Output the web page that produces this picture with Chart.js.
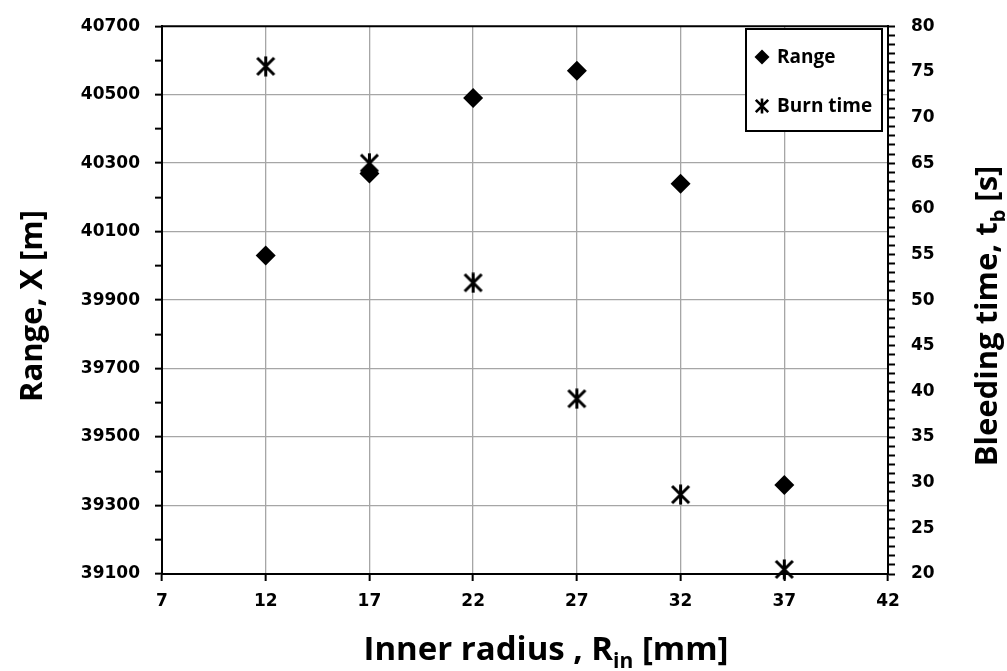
<!DOCTYPE html>
<html>
<head>
<meta charset="utf-8">
<script src="https://cdn.jsdelivr.net/npm/chart.js@4.4.0/dist/chart.umd.min.js"></script>
<style>
html, body { margin: 0; padding: 0; background: #fff; }
#holder { width: 1007px; height: 671px; }
</style>
</head>
<body>
<div id="holder"><canvas id="chart-area" width="1007" height="671"></canvas></div>
<script>
// data
var innerRadius = [12, 17, 22, 27, 32, 37];
var rangeX = [40030, 40270, 40490, 40570, 40240, 39360];
var burnTime = [75.6, 65.0, 51.9, 39.2, 28.7, 20.5];

// tick labels
var xTickLabels = [7, 12, 17, 22, 27, 32, 37, 42];
var rangeTickLabels = [39100, 39300, 39500, 39700, 39900, 40100, 40300, 40500, 40700];
var timeTickLabels = [20, 25, 30, 35, 40, 45, 50, 55, 60, 65, 70, 75, 80];

var tickFont = { family: '"DejaVu Sans"', size: 17, weight: 'bold' };
var titleFont = '"Open Sans"';
var gridGray = '#a6a6a6';

// excel style star marker: X plus a vertical bar
function makeStar(size, lw) {
    var c = document.createElement('canvas');
    c.width = size;
    c.height = size;
    var g = c.getContext('2d');
    g.strokeStyle = '#000';
    g.lineWidth = lw;
    var m = lw / 2 + 0.5, e = size - m;
    g.beginPath();
    g.moveTo(m, m); g.lineTo(e, e);
    g.moveTo(e, m); g.lineTo(m, e);
    g.moveTo(size / 2, 0.5); g.lineTo(size / 2, size - 0.5);
    g.stroke();
    return c;
}
var starBig = makeStar(21, 3);
var starSmall = makeStar(16, 2.6);

function toPoints(xs, ys) {
    return xs.map(function (x, i) { return { x: x, y: ys[i] }; });
}

// draws text with a subscript part, centered at (0,0) baseline
function drawRich(ctx, parts, size) {
    var total = 0;
    parts.forEach(function (p) {
        ctx.font = 'bold ' + (p.sub ? Math.round(size * 0.65) : size) + 'px ' + titleFont;
        p.w = ctx.measureText(p.t).width;
        total += p.w;
    });
    var x = -total / 2;
    ctx.textAlign = 'left';
    ctx.textBaseline = 'alphabetic';
    parts.forEach(function (p) {
        ctx.font = 'bold ' + (p.sub ? Math.round(size * 0.65) : size) + 'px ' + titleFont;
        ctx.fillText(p.t, x, p.sub ? size * 0.25 : 0);
        x += p.w;
    });
}

var extras = {
    id: 'extras',
    afterDraw: function (chart) {
        var ctx = chart.ctx;
        var a = chart.chartArea;
        ctx.save();
        ctx.fillStyle = '#000';

        // top frame line
        ctx.strokeStyle = '#000';
        ctx.lineWidth = 2;
        ctx.beginPath();
        ctx.moveTo(a.left - 1, a.top);
        ctx.lineTo(a.right + 1, a.top);
        ctx.stroke();

        // axis titles
        ctx.save();
        ctx.translate(546, 660);
        drawRich(ctx, [{ t: 'Inner radius , R' }, { t: 'in', sub: true }, { t: ' [mm]' }], 33);
        ctx.restore();

        ctx.save();
        ctx.translate(42, 306);
        ctx.rotate(-Math.PI / 2);
        drawRich(ctx, [{ t: 'Range, X [m]' }], 31);
        ctx.restore();

        ctx.save();
        ctx.translate(997, 316);
        ctx.rotate(-Math.PI / 2);
        drawRich(ctx, [{ t: 'Bleeding time, t' }, { t: 'b', sub: true }, { t: ' [s]' }], 31);
        ctx.restore();

        // legend box
        var lx = 746, ly = 29, lw = 136, lh = 102;
        ctx.fillStyle = '#fff';
        ctx.fillRect(lx, ly, lw, lh);
        ctx.strokeStyle = '#000';
        ctx.lineWidth = 2;
        ctx.strokeRect(lx, ly, lw, lh);

        ctx.fillStyle = '#000';
        ctx.beginPath();
        ctx.moveTo(762, 57 - 7.5);
        ctx.lineTo(762 + 7.5, 57);
        ctx.lineTo(762, 57 + 7.5);
        ctx.lineTo(762 - 7.5, 57);
        ctx.closePath();
        ctx.fill();
        ctx.drawImage(starSmall, 762 - 8, 106 - 8);

        ctx.font = 'bold 19px ' + titleFont;
        ctx.textAlign = 'left';
        ctx.textBaseline = 'alphabetic';
        ctx.fillText(chart.data.datasets[0].label, 777, 63);
        ctx.fillText(chart.data.datasets[1].label, 777, 112);
        ctx.restore();
    }
};

var config = {
    type: 'scatter',
    data: {
        datasets: [{
            label: 'Range',
            data: toPoints(innerRadius, rangeX),
            yAxisID: 'y',
            pointStyle: 'rectRot',
            pointRadius: 10,
            pointHoverRadius: 10,
            backgroundColor: '#000',
            borderColor: '#000',
            borderWidth: 0,
            clip: false
        }, {
            label: 'Burn time',
            data: toPoints(innerRadius, burnTime),
            yAxisID: 'y1',
            pointStyle: starBig,
            pointRadius: 10,
            backgroundColor: '#000',
            borderColor: '#000',
            clip: false
        }]
    },
    options: {
        responsive: false,
        animation: false,
        devicePixelRatio: 1,
        layout: { padding: { top: 24, left: 0, right: 0, bottom: 0 } },
        plugins: {
            legend: { display: false },
            tooltip: { enabled: false }
        },
        scales: {
            x: {
                type: 'linear',
                position: 'bottom',
                min: xTickLabels[0],
                max: xTickLabels[xTickLabels.length - 1],
                border: { color: '#000', width: 2 },
                grid: {
                    color: function (c) {
                        var v = c.tick ? c.tick.value : null;
                        return (v === xTickLabels[0] || v === xTickLabels[xTickLabels.length - 1]) ? 'rgba(0,0,0,0)' : gridGray;
                    },
                    lineWidth: 1.3,
                    tickColor: '#000',
                    tickLength: 7,
                    tickWidth: 2
                },
                ticks: {
                    stepSize: 5,
                    autoSkip: false,
                    maxRotation: 0,
                    padding: 10,
                    color: '#000',
                    font: tickFont,
                    callback: function (v) { return xTickLabels.indexOf(v) >= 0 ? String(v) : ''; }
                },
                afterFit: function (s) { s.height = 97; }
            },
            y: {
                position: 'left',
                min: rangeTickLabels[0],
                max: rangeTickLabels[rangeTickLabels.length - 1],
                border: { color: '#000', width: 2 },
                grid: {
                    color: function (c) {
                        var v = c.tick ? c.tick.value : null;
                        if (v === rangeTickLabels[0] || v === rangeTickLabels[rangeTickLabels.length - 1]) return 'rgba(0,0,0,0)';
                        return rangeTickLabels.indexOf(v) >= 0 ? gridGray : 'rgba(0,0,0,0)';
                    },
                    lineWidth: 1.3,
                    tickColor: '#000',
                    tickLength: 7,
                    tickWidth: 2
                },
                ticks: {
                    stepSize: 100,
                    autoSkip: false,
                    maxTicksLimit: 40,
                    padding: 15,
                    color: '#000',
                    font: tickFont,
                    callback: function (v) { return rangeTickLabels.indexOf(v) >= 0 ? String(v) : ''; }
                },
                afterFit: function (s) { s.width = 162; }
            },
            y1: {
                position: 'right',
                min: timeTickLabels[0],
                max: timeTickLabels[timeTickLabels.length - 1],
                border: { color: '#000', width: 2 },
                grid: {
                    drawOnChartArea: false,
                    tickColor: '#000',
                    tickLength: 7,
                    tickWidth: 2
                },
                ticks: {
                    stepSize: 1,
                    autoSkip: false,
                    maxTicksLimit: 100,
                    padding: 16,
                    color: '#000',
                    font: tickFont,
                    callback: function (v) { return timeTickLabels.indexOf(v) >= 0 ? String(v) : ''; }
                },
                afterFit: function (s) { s.width = 119; }
            }
        }
    },
    plugins: [extras]
};

var canvas = document.getElementById('chart-area');
var chart = new Chart(canvas, config);
</script>
</body>
</html>
